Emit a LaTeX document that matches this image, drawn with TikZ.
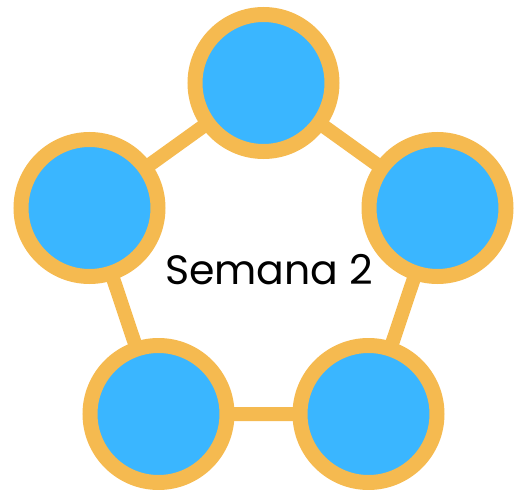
\documentclass[tikz,border=0pt]{standalone}
\usepackage{fontspec}
\setmainfont{Poppins}
\definecolor{ringorange}{RGB}{245,186,80}
\definecolor{dotblue}{RGB}{58,182,255}
\begin{document}
\begin{tikzpicture}[x=1pt,y=-1pt,
  dot/.style={circle,fill=dotblue,draw=ringorange,line width=15pt,minimum size=137pt,inner sep=0pt},
  link/.style={draw=ringorange,line width=14pt}]
\useasboundingbox (0,0) rectangle (520,490);
\coordinate (ct) at (263.5,83);
\coordinate (cl) at (89.5,208);
\coordinate (cr) at (437.5,208);
\coordinate (cbl) at (158.5,414);
\coordinate (cbr) at (368.5,414);
\draw[link] (ct) -- (cr) -- (cbr) -- (cbl) -- (cl) -- cycle;
\node[dot] (t) at (ct) {};
\node[dot] (l) at (cl) {};
\node[dot] (r) at (cr) {};
\node[dot] (bl) at (cbl) {};
\node[dot] (br) at (cbr) {};
\node[font=\fontsize{41}{41}\selectfont, anchor=base] (lab) at (269,284) {Semana 2};
\end{tikzpicture}
\end{document}
